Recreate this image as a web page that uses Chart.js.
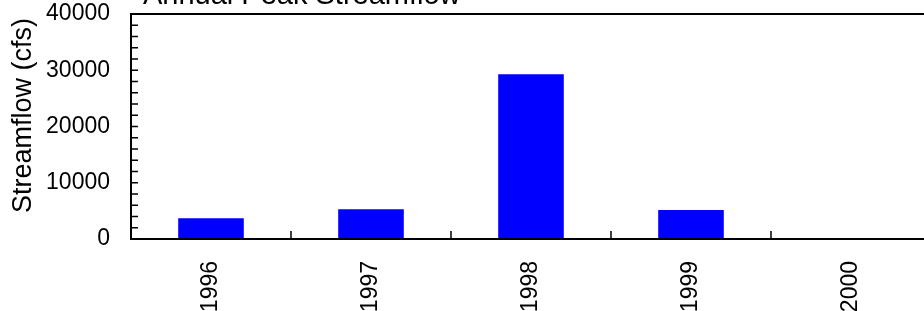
<!DOCTYPE html>
<html>
<head>
<meta charset="utf-8">
<script src="https://cdn.jsdelivr.net/npm/chart.js@4/dist/chart.umd.min.js"></script>
<style>
  html, body { margin: 0; padding: 0; overflow: hidden; background: #fff; }
  canvas { display: block; }
</style>
</head>
<body>
<canvas id="peak" width="931" height="311"></canvas>
<script>
// data
var years = ['1996', '1997', '1998', '1999', '2000'];
var peak_flow = [3700, 5300, 29300, 5150, 0];
var y_min = 0;
var y_max = 40000;
var y_step = 10000;
var y_minor_step = 2000;
var title_text = 'Annual Peak Streamflow';
var y_title = 'Streamflow (cfs)';

var font_family = '"Liberation Sans", Arial, sans-serif';

// frame, inward ticks, the cut-off title and the y title
var khung = {
    id: 'khung',
    afterDraw: function (chart) {
        var ctx = chart.ctx;
        var a = chart.chartArea;
        var x = chart.scales.x;
        var y = chart.scales.y;
        ctx.save();
        ctx.strokeStyle = '#000';
        ctx.lineWidth = 1.5;
        ctx.beginPath();
        for (var v = y_min + y_minor_step; v < y_max; v += y_minor_step) {
            var py = y.getPixelForValue(v);
            ctx.moveTo(a.left, py);
            ctx.lineTo(a.left + 7, py);
        }
        for (var i = 1; i < years.length; i++) {
            var px = (x.getPixelForValue(i - 1) + x.getPixelForValue(i)) / 2;
            ctx.moveTo(px, a.bottom);
            ctx.lineTo(px, a.bottom - 8);
        }
        ctx.stroke();
        ctx.lineWidth = 2;
        ctx.strokeRect(a.left, a.top, a.right - a.left, a.bottom - a.top);
        ctx.fillStyle = '#000';
        ctx.font = '29px ' + font_family;
        ctx.textBaseline = 'alphabetic';
        ctx.textAlign = 'left';
        ctx.fillText(title_text, a.left + 12, 4);
        // y title, a bit above the middle of the plot like the original
        ctx.translate(24, (a.top + a.bottom) / 2 - 11);
        ctx.rotate(-Math.PI / 2);
        ctx.font = '27px ' + font_family;
        ctx.textAlign = 'center';
        ctx.textBaseline = 'middle';
        ctx.fillText(y_title, 0, 0);
        ctx.restore();
    }
};

var bieudo = new Chart(document.getElementById('peak').getContext('2d'), {
    type: 'bar',
    data: {
        labels: years,
        datasets: [
            {
                label: 'Peak streamflow',
                data: peak_flow,
                backgroundColor: '#0000ff',
                borderWidth: 0,
                categoryPercentage: 1,
                barPercentage: 0.41
            }
        ]
    },
    options: {
        responsive: false,
        animation: false,
        devicePixelRatio: 1,
        layout: {
            padding: { top: 14, right: 0, bottom: 0, left: 0 }
        },
        plugins: {
            legend: { display: false },
            title: { display: false },
            tooltip: { enabled: false }
        },
        scales: {
            x: {
                type: 'category',
                offset: true,
                grid: { display: false, drawTicks: false },
                border: { display: false },
                ticks: {
                    color: '#000',
                    font: { size: 23, family: font_family },
                    minRotation: 90,
                    maxRotation: 90,
                    padding: 22,
                    autoSkip: false
                },
                afterFit: function (scale) {
                    scale.height = 72;
                    scale.paddingLeft = 0;
                    scale.paddingRight = 0;
                }
            },
            y: {
                min: y_min,
                max: y_max,
                grid: { display: false, drawTicks: false },
                border: { display: false },
                ticks: {
                    stepSize: y_step,
                    color: '#000',
                    font: { size: 23, family: font_family },
                    padding: 21,
                    callback: function (value) {
                        return String(value);
                    }
                },
                afterFit: function (scale) {
                    scale.width = 131;
                    scale.paddingTop = 0;
                    scale.paddingBottom = 0;
                }
            }
        }
    },
    plugins: [khung]
});
</script>
</body>
</html>
